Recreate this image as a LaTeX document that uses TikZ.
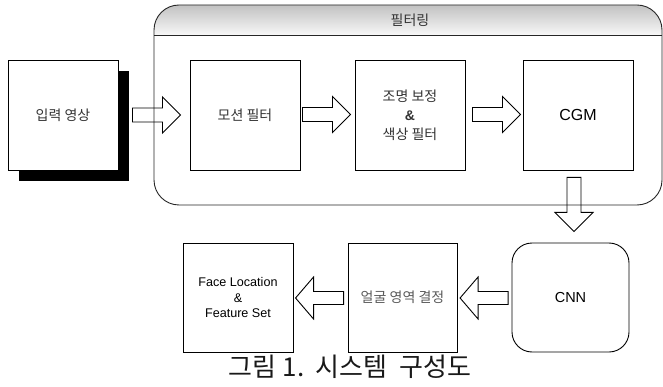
\documentclass[tikz,border=0pt]{standalone}
\usepackage{fontspec}
\setmainfont{Liberation Sans}
\newfontfamily\kr{Noto Sans CJK KR}
\usetikzlibrary{calc}
\tikzset{
  box/.style={draw=black, line width=0.9pt, fill=white, minimum width=110pt, minimum height=110pt, inner sep=0pt, align=center},
  krtext/.style={font=\kr\fontsize{14}{20}\selectfont, text=black!80},
  entext/.style={font=\fontsize{16}{20}\selectfont},
  arr/.style={draw=black, line width=0.9pt},
  rarr/.pic={\draw[arr] (0,-7) -- (30,-7) -- (30,-18) -- (48,0) -- (30,18) -- (30,7) -- (0,7) -- cycle;},
  larr/.pic={\draw[arr] (0,-6.5) -- (-30,-6.5) -- (-30,-21) -- (-48,0) -- (-30,21) -- (-30,6.5) -- (0,6.5) -- cycle;},
  darr/.pic={\draw[arr] (-7,0) -- (-7,35) -- (-19,35) -- (0,54) -- (19,35) -- (7,35) -- (7,0) -- cycle;}
}
\begin{document}
\begin{tikzpicture}[x=1pt,y=-1pt]
\useasboundingbox (0,0) rectangle (663,387);
% container
\begin{scope}
  \clip[rounded corners=25pt] (154,5) rectangle (662,205);
  \shade[top color=black!24, bottom color=black!3] (154,5) rectangle (662,35);
\end{scope}
\draw[black!85, line width=0.9pt, rounded corners=25pt] (154,5) rectangle (662,205);
\draw[black!85, line width=0.9pt] (154,35) -- (662,35);
\node[krtext] (hdr) at (410,20) {필터링};
% input with shadow
\fill[black] (19,71) rectangle (129,181);
\node[box, krtext] (in) at (63,115) {입력 영상};
\node[box, krtext] (motion) at (245,115) {모션 필터};
\node[box, krtext] (light) at (410,115) {조명 보정\\[-1pt]{\fontspec{Liberation Sans}\bfseries\&}\\[-1pt]색상 필터};
\node[box, entext] (cgm) at (578,115) {CGM};
\node[box, entext, rounded corners=20pt, minimum width=117pt, minimum height=109pt, font=\fontsize{14.5}{18}\selectfont] (cnn) at (570.5,297.5) {CNN};
\node[box, krtext, minimum width=109pt, minimum height=109pt, text=black!65] (region) at (402.5,297.5) {얼굴 영역 결정};
\node[box, minimum height=109pt, font=\fontsize{12.6}{15.5}\selectfont] (faceloc) at (238,297.5) {Face Location\\\&\\Feature Set};
% arrows
\path ($(in.east)+(14,0)$) pic {rarr};
\path ($(motion.east)+(2,-0.5)$) pic {rarr};
\path ($(light.east)+(7,-0.5)$) pic {rarr};
\path ($(cgm.south)+(-4,7)$) pic {darr};
\path ($(cnn.west)+(-3.5,0.5)$) pic {larr};
\path ($(region.west)+(-4,0.5)$) pic {larr};
% caption
\node[font=\kr\fontsize{26}{28}\selectfont, text=black!90] (cap) at (350,367) {그림 1.\ \ 시스템\ \ 구성도};
\end{tikzpicture}
\end{document}
